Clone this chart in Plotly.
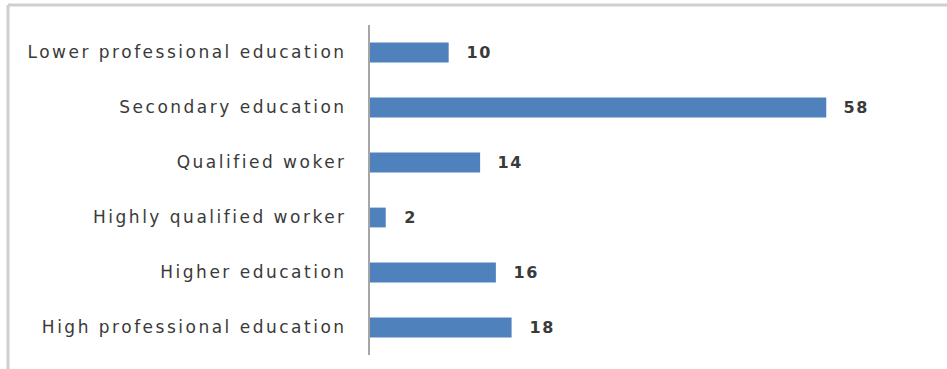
import plotly.graph_objects as go

# Education levels (top to bottom) and their counts
categories = [
    "Lower professional education",
    "Secondary education",
    "Qualified woker",
    "Highly qualified worker",
    "Higher education",
    "High professional education",
]
values = [10, 58, 14, 2, 16, 18]

W, H = 947, 369
L, R, T, B = 370, 105, 25, 14
BAR_COLOR = "#4f81bd"
TEXT_COLOR = "#3a3a3a"

fig = go.Figure(
    go.Bar(
        x=values,
        y=categories,
        orientation="h",
        marker=dict(color=BAR_COLOR, line=dict(width=0)),
        width=0.36,
        hoverinfo="x+y",
    )
)

# value labels to the right of each bar
for c, v in zip(categories, values):
    fig.add_annotation(
        x=v, y=c, text=f"<b>{v}</b>", showarrow=False,
        xanchor="left", xshift=17,
        font=dict(family="DejaVu Sans", size=16, color=TEXT_COLOR),
    )

# light grey frame along top and left edges
pw = W - L - R
ph = H - T - B
def px_x(p):
    return (p - L) / pw
def px_y(p):
    return 1 - (p - T) / ph

frame = dict(color="#cfcfcf", width=3)
fig.add_shape(type="line", xref="paper", yref="paper",
              x0=px_x(8), x1=px_x(W + 5), y0=px_y(5), y1=px_y(5), line=frame)
fig.add_shape(type="line", xref="paper", yref="paper",
              x0=px_x(8), x1=px_x(8), y0=px_y(5), y1=px_y(H + 5), line=frame)

fig.update_layout(
    width=W, height=H,
    margin=dict(l=L, r=R, t=T, b=B),
    paper_bgcolor="white", plot_bgcolor="white",
    showlegend=False,
    font=dict(family="DejaVu Sans", size=16, color=TEXT_COLOR),
    xaxis=dict(range=[0, 60], visible=False, fixedrange=True),
    yaxis=dict(
        categoryorder="array", categoryarray=categories[::-1],
        showline=True, linecolor="#a6a6a6", linewidth=2,
        ticks="", ticklabelstandoff=18, showgrid=False, fixedrange=True,
        tickfont=dict(family="DejaVu Sans", size=17, color=TEXT_COLOR),
    ),
)

# widen the category labels with a little letter spacing
spacing_js = """
var gd = document.getElementsByClassName('plotly-graph-div')[0];
function spread() {
  gd.querySelectorAll('.ytick text').forEach(function (t) {
    t.style.letterSpacing = '2.5px';
  });
  gd.querySelectorAll('.annotation-text').forEach(function (t) {
    t.style.letterSpacing = '1.5px';
  });
}
spread();
gd.on('plotly_afterplot', spread);
"""

fig.write_html("out.html", config={"displayModeBar": False}, post_script=spacing_js)
